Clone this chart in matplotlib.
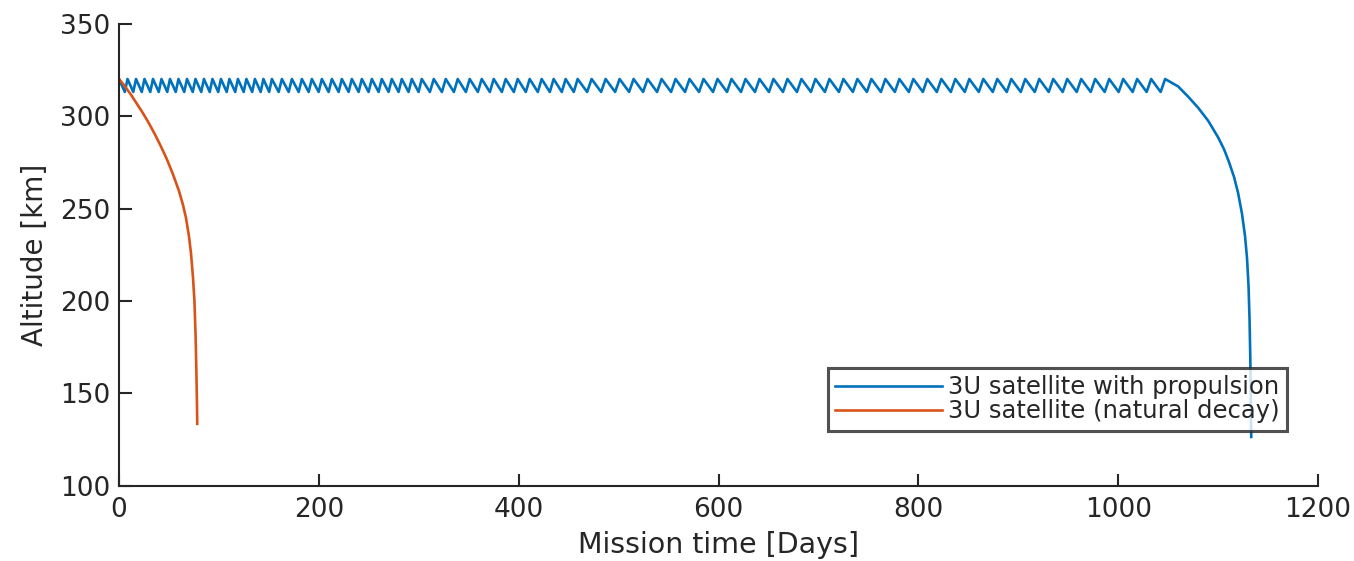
import numpy as np
import matplotlib
matplotlib.use("Agg")
import matplotlib.pyplot as plt

plt.rcParams['font.family'] = ['DejaVu Sans']

# --- data ---
# Natural decay (orange): day, altitude [km]
decay_days = [0, 6, 12, 18, 24, 30, 36, 42, 48, 54, 60, 64, 67, 70, 72, 74,
              75.5, 76.7, 77.5, 78, 78.3]
decay_alt = [320, 316, 311.5, 306.5, 301.5, 296, 290, 283.5, 276.5, 268.5, 259.5,
             252, 245, 235, 226, 213, 200, 180, 160, 145, 133.6]

# Propulsion phase: altitude band kept by periodic boosts
band_top = 320.0
band_bottom = 313.0
# boost period [days] in successive mission segments (segment start day, period)
segment_start = [0, 150, 300, 450]
segment_period = [8.5, 10.0, 12.0, 14.0]
propulsion_end = 1054

# Final decay after propellant exhausted (blue): day, altitude [km]
final_days = [1060, 1070, 1080, 1090, 1100, 1106, 1111, 1116, 1120, 1124, 1127,
              1129, 1130.5, 1131.5, 1132.3, 1132.8, 1133.2]
final_alt = [316, 310.5, 304.5, 297.5, 288.5, 282, 275, 267, 258.5, 247, 235,
             223, 208, 190, 168, 147, 126.5]

labels = ['3U satellite with propulsion', '3U satellite (natural decay)']
colors = ['#0072BD', '#D95319']

# --- build the propulsion sawtooth from the read band and periods ---
t_pts = [0.0]
a_pts = [band_top]
t = 0.0
while True:
    idx = max(i for i, s in enumerate(segment_start) if s <= t)
    p = segment_period[idx]
    if t + p > propulsion_end:
        break
    t_pts.append(t + 0.68 * p)
    a_pts.append(band_bottom)
    t_pts.append(t + p)
    a_pts.append(band_top)
    t += p
t_pts += final_days
a_pts += final_alt

fig = plt.figure(figsize=(13.54, 5.61), dpi=100)
ax = fig.add_axes([0.0879, 0.1337, 0.8855, 0.8244])

ax.plot(t_pts, a_pts, color=colors[0], lw=1.9, label=labels[0])
ax.plot(decay_days, decay_alt, color=colors[1], lw=1.9, label=labels[1])

ax.set_xlim(0, 1200)
ax.set_ylim(100, 350)
ax.set_xticks([0, 200, 400, 600, 800, 1000, 1200])
ax.set_yticks([100, 150, 200, 250, 300, 350])
ax.spines['top'].set_visible(False)
ax.spines['right'].set_visible(False)
for s in ('left', 'bottom'):
    ax.spines[s].set_linewidth(1.5)
    ax.spines[s].set_color('#262626')
ax.tick_params(direction='in', length=9, width=1.5, labelsize=19, colors='#262626')
ax.tick_params(axis='x', pad=8)
ax.tick_params(axis='y', pad=6)
ax.set_xlabel('Mission time [Days]', fontsize=20.5, color='#262626', labelpad=6)
ax.set_ylabel('Altitude [km]', fontsize=20, color='#262626', labelpad=8)

leg = ax.legend(loc='upper right', bbox_to_anchor=(0.974, 0.255), fontsize=17.5,
                frameon=True, fancybox=False, handlelength=4.4, handletextpad=0.25,
                labelspacing=0.0, borderpad=0.3, borderaxespad=0)
leg.get_frame().set_edgecolor('#262626')
leg.get_frame().set_linewidth(2.2)
for txt in leg.get_texts():
    txt.set_color('#262626')

fig.savefig('out.png', dpi=100)
